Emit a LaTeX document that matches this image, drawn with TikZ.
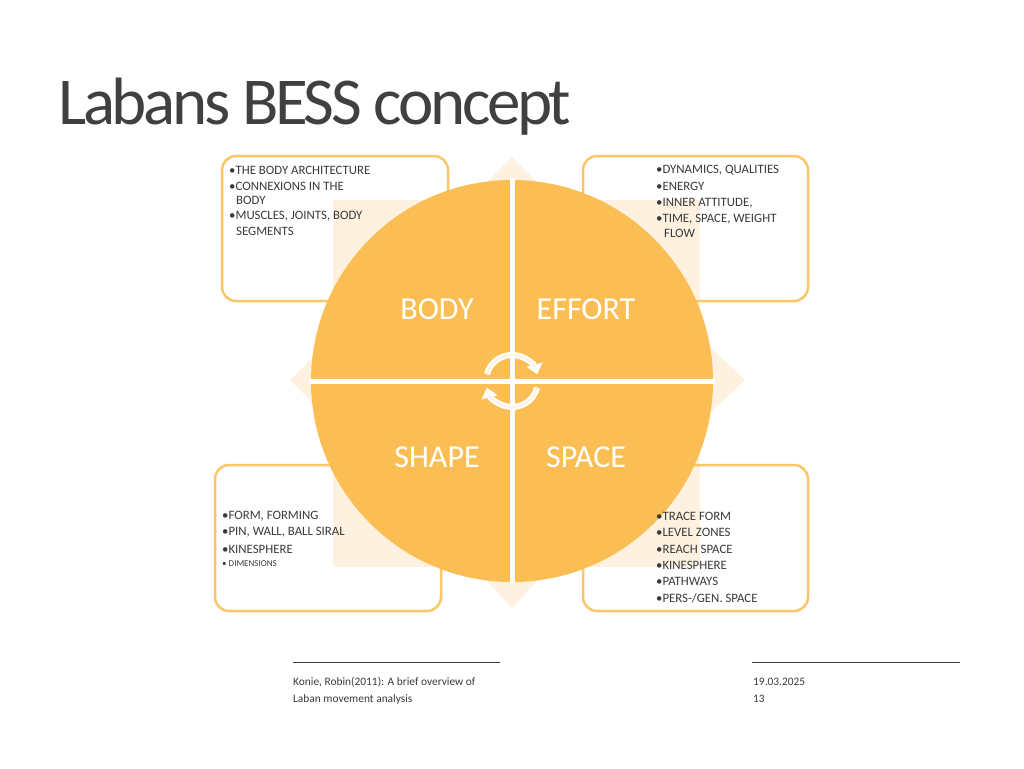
\documentclass[tikz,border=0pt]{standalone}
\usepackage{fontspec}
\setmainfont{Carlito}
\usetikzlibrary{arrows.meta}
\definecolor{org}{HTML}{FBBE55}
\definecolor{bord}{HTML}{FBC668}
\definecolor{pale}{HTML}{FEF1E0}
\definecolor{txt}{HTML}{3A3A3A}
\definecolor{ttl}{HTML}{404040}
\begin{document}
\begin{tikzpicture}[x=1pt,y=-1pt,
  itm/.style={anchor=west,inner sep=0pt,font=\fontsize{12.8}{14}\selectfont,text=txt},
  foot/.style={anchor=west,inner sep=0pt,font=\fontsize{11.4}{13}\selectfont,text=txt},
  quad/.style={font=\fontsize{32}{34}\selectfont,text=white,inner sep=0pt},
  box/.style={draw=bord,line width=2.5pt,rounded corners=14pt},
  circarr/.style={draw=white,line width=6pt,-{Triangle[width=16pt,length=10pt]}}]
\useasboundingbox (0,0) rectangle (1024,768);
\fill[white] (0,0) rectangle (1024,768);
\node[anchor=base west,inner sep=0pt,text=ttl,font=\fontsize{67}{70}\selectfont\addfontfeature{LetterSpace=-5}] (title) at (58,124) {Labans BESS concept};
% pale background
\fill[pale] (333,200) rectangle (700,567);
\fill[pale] (512,157) -- (440,230) -- (584,230) -- cycle;
\fill[pale] (512,608) -- (440,530) -- (584,530) -- cycle;
\fill[pale] (290,380) -- (360,310) -- (360,450) -- cycle;
\fill[pale] (745,380) -- (670,310) -- (670,450) -- cycle;
% boxes
\draw[box] (222,156) rectangle (448,301);
\draw[box] (583,156) rectangle (808,301);
\draw[box] (215,465) rectangle (441,611);
\draw[box] (583,465) rectangle (808,611);
% circle
\fill[org] (512,381) circle (201);
\draw[white,line width=5pt] (512,178) -- (512,584);
\draw[white,line width=5pt] (309,381) -- (715,381);
\node[quad] (body) at (437,309) {BODY};
\node[quad] (effort) at (586,309) {EFFORT};
\node[quad] (shape) at (437,457) {SHAPE};
\node[quad] (space) at (586,457) {SPACE};
% circular arrows
\draw[circarr] (512,381) ++(195:26) arc (195:345:26);
\draw[circarr] (512,381) ++(15:26) arc (15:165:26);
\draw[pale,line width=2pt,shorten >=8pt] (512,381) ++(195:26) arc (195:345:26);
\draw[pale,line width=2pt,shorten >=8pt] (512,381) ++(15:26) arc (15:165:26);
% TL texts
\node[itm] (a1) at (229,170) {•THE BODY ARCHITECTURE};
\node[itm] (a2) at (229,186) {•CONNEXIONS IN THE};
\node[itm] (a3) at (236,200) {BODY};
\node[itm] (a4) at (229,216) {•MUSCLES, JOINTS, BODY};
\node[itm] (a5) at (236,231) {SEGMENTS};
% TR texts
\node[itm] (b1) at (656,170) {•DYNAMICS, QUALITIES};
\node[itm] (b2) at (656,186) {•ENERGY};
\node[itm] (b3) at (656,203) {•INNER ATTITUDE,};
\node[itm] (b4) at (656,219) {•TIME, SPACE, WEIGHT};
\node[itm] (b5) at (664,233) {FLOW};
% BL texts
\node[itm] (c1) at (222,516) {•FORM, FORMING};
\node[itm] (c2) at (222,532) {•PIN, WALL, BALL SIRAL};
\node[itm] (c3) at (222,549) {•KINESPHERE};
\node[itm,font=\fontsize{9}{10}\selectfont] (c4) at (222,564) {• DIMENSIONS};
% BR texts
\node[itm] (d1) at (656,516) {•TRACE FORM};
\node[itm] (d2) at (656,532) {•LEVEL ZONES};
\node[itm] (d3) at (656,549) {•REACH SPACE};
\node[itm] (d4) at (656,565) {•KINESPHERE};
\node[itm] (d5) at (656,581) {•PATHWAYS};
\node[itm] (d6) at (656,598) {•PERS-/GEN. SPACE};
% footer
\draw[txt,line width=0.7pt] (293,662) -- (500,662);
\draw[txt,line width=0.7pt] (752,662) -- (960,662);
\node[foot] (f1) at (293,682) {Konie, Robin(2011): A brief overview of};
\node[foot] (f2) at (293,699) {Laban movement analysis};
\node[foot] (f3) at (753,682) {19.03.2025};
\node[foot] (f4) at (753,699) {13};
\end{tikzpicture}
\end{document}
